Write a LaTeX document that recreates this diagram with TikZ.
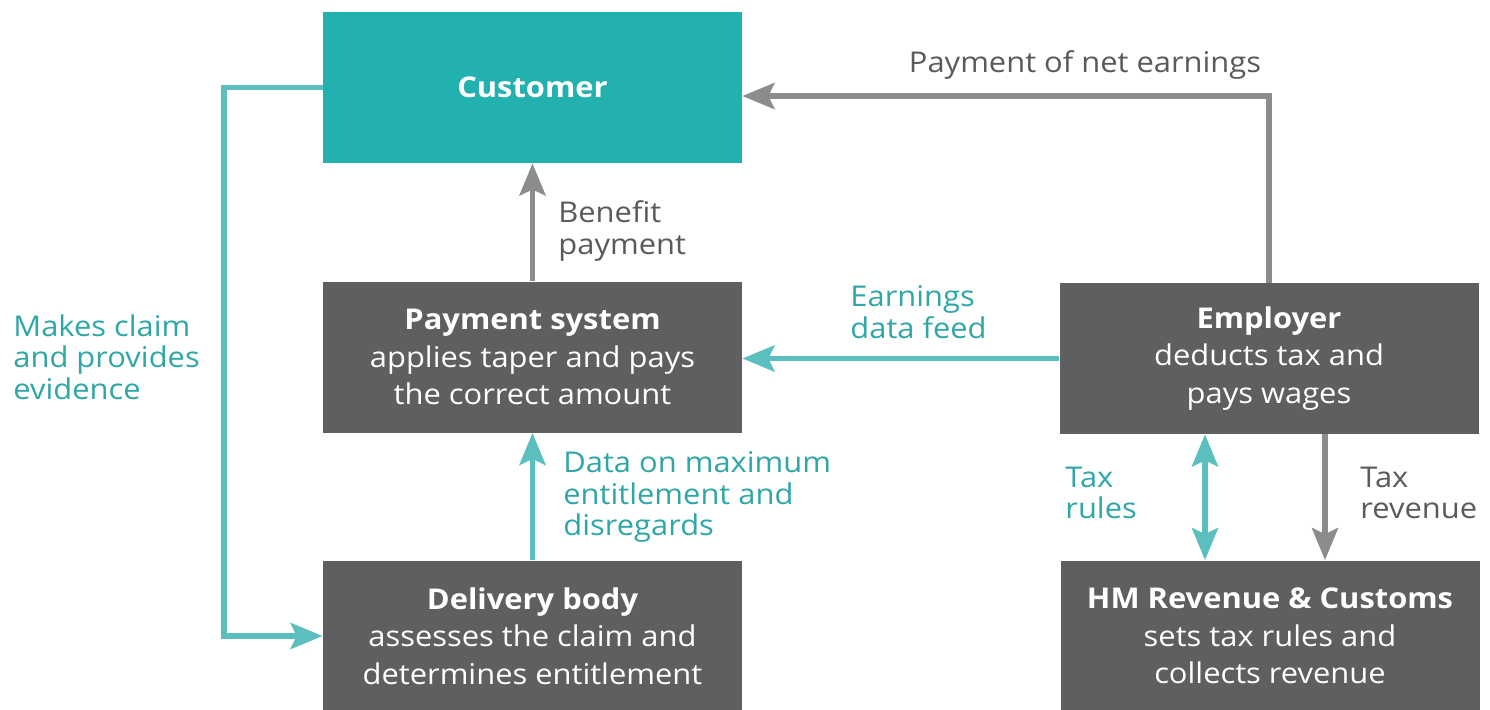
\documentclass[tikz,border=0pt]{standalone}
\usepackage{fontspec}
\setmainfont[FakeStretch=1.08]{Open Sans}
\usetikzlibrary{arrows.meta,calc}
\definecolor{custfill}{HTML}{23B1B0}
\definecolor{boxgray}{HTML}{5E5F61}
\definecolor{flowteal}{HTML}{5CBFBF}
\definecolor{flowgray}{HTML}{8C8C8C}
\definecolor{labteal}{HTML}{2FA7A6}
\definecolor{labgray}{HTML}{5A5A5A}
\begin{document}
\begin{tikzpicture}[x=0.5pt,y=-0.5pt,
  actor/.style={rectangle,draw=none,inner sep=0pt,minimum width=209.5pt,minimum height=75.5pt,
    align=center,text=white,font=\fontsize{14.3}{18.7}\selectfont},
  custbox/.style={actor,fill=custfill},
  graybox/.style={actor,fill=boxgray},
  flow/.style={line width=2.7pt,-{Stealth[length=16pt,width=13pt,inset=3pt]}},
  tealflow/.style={flow,draw=flowteal},
  grayflow/.style={flow,draw=flowgray},
  lab/.style={inner sep=0pt,align=left,font=\fontsize{14.3}{15.7}\selectfont},
  tlab/.style={lab,text=labteal},
  glab/.style={lab,text=labgray}]
\useasboundingbox[fill=white] (0,0) rectangle (1490,709);

% the five parties
\node[custbox]  (cust)  at (532.5,87.5) {\textbf{Customer}};
\node[graybox]  (pay)   at (532.5,357)  {\textbf{Payment system}\\applies taper and pays\\the correct amount};
\node[graybox]  (deliv) at (532.5,636)  {\textbf{Delivery body}\\assesses the claim and\\determines entitlement};
\node[graybox]  (emp)   at (1269,358.5) {\textbf{Employer}\\deducts tax and\\pays wages};
\node[graybox]  (hmrc)  at (1270,636)   {\textbf{HM Revenue \& Customs}\\sets tax rules and\\collects revenue};

% routing points
\coordinate (claimtop) at (224,87.5);
\coordinate (netcorner) at (1269,96);

% flows between the parties
\draw[tealflow] (cust.west) -- (claimtop) |- (deliv.west);
\draw[grayflow] (pay.north) -- (cust.south);
\draw[grayflow] (emp.north) -- (netcorner) -- (cust.east |- netcorner);
\draw[tealflow] (emp.west) -- (pay.east |- emp.west);
\draw[tealflow] (deliv.north) -- (pay.south);
\draw[tealflow,{Stealth[length=16pt,width=13pt,inset=3pt]}-{Stealth[length=16pt,width=13pt,inset=3pt]}]
  ($(emp.south)+(-64,0)$) -- ($(hmrc.north)+(-65,0)$);
\draw[grayflow] ($(emp.south)+(56,0)$) -- ($(hmrc.north)+(55,0)$);

% flow labels
\node[glab,anchor=west] (lbenefit) at (558,231) {Benefit\\payment};
\node[glab] (lnet) at (1085,65) {Payment of net earnings};
\node[tlab,anchor=west] (lfeed) at (850,312) {Earnings\\data feed};
\node[tlab,anchor=west] (lclaim) at (13,357) {Makes claim\\and provides\\evidence};
\node[tlab,anchor=west] (ldata) at (563,497) {Data on maximum\\entitlement and\\disregards};
\node[tlab,anchor=west] (lrules) at (1065,493) {Tax\\rules};
\node[glab,anchor=west] (lrev) at (1360,493) {Tax\\revenue};
\end{tikzpicture}
\end{document}
